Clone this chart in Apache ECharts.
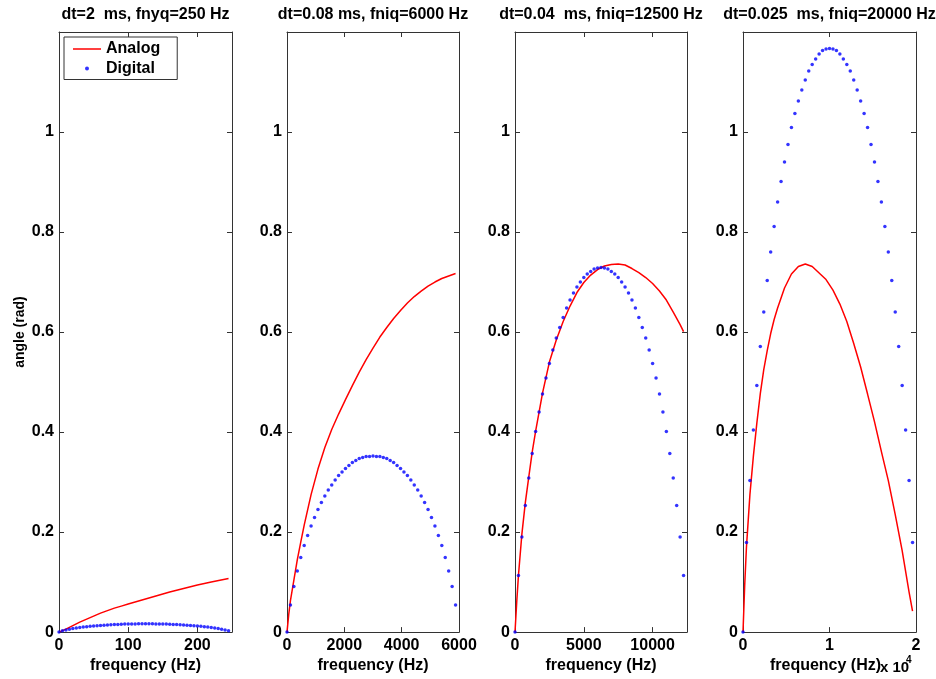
<!DOCTYPE html>
<html>
<head>
<meta charset="utf-8">
<script src="https://cdn.jsdelivr.net/npm/echarts@6/dist/echarts.min.js"></script>
<style>
html,body{margin:0;padding:0;background:#fff;}
#chart{width:936px;height:679px;}
</style>
</head>
<body>
<div id="chart"></div>
<script>
// ---------- data ----------
const titles = ['dt=2  ms, fnyq=250 Hz', 'dt=0.08 ms, fniq=6000 Hz', 'dt=0.04  ms, fniq=12500 Hz', 'dt=0.025  ms, fniq=20000 Hz'];
const xMax = [250, 6000, 12500, 20000];
const xInterval = [100, 2000, 5000, 10000];
const yTicks = [0, 0.2, 0.4, 0.6, 0.8, 1];

// Analog (red lines)
const analogFreq1 = [0,10,20,30,40,50,60,70,80,90,100,120,140,160,180,200,220,245];
const analogVal1  = [0,0.006,0.013,0.020,0.026,0.032,0.038,0.043,0.048,0.052,0.056,0.064,0.072,0.080,0.087,0.094,0.100,0.107];

const analogFreq2 = [0,60,120,240,360,480,600,840,1080,1320,1560,1800,2040,2280,2520,2760,3000,3240,3480,3720,3960,4200,4440,4680,4920,5160,5400,5640,5880];
const analogVal2  = [0,0.035,0.063,0.104,0.145,0.180,0.214,0.275,0.326,0.369,0.405,0.436,0.465,0.493,0.520,0.545,0.568,0.590,0.609,0.627,0.643,0.658,0.671,0.682,0.692,0.700,0.707,0.712,0.717];

const analogFreq3 = [0,125,250,500,750,1000,1250,1500,1750,2000,2500,3000,3500,4000,4500,5000,5500,6000,6500,7000,7500,8000,8500,9000,9500,10000,10500,11000,11500,12000,12250];
const analogVal3  = [0,0.060,0.113,0.196,0.259,0.310,0.360,0.402,0.440,0.478,0.540,0.584,0.621,0.652,0.679,0.699,0.714,0.725,0.732,0.735,0.736,0.734,0.727,0.719,0.709,0.697,0.682,0.664,0.640,0.615,0.601];

const analogFreq4 = [0,200,400,800,1200,1600,2000,2400,2800,3200,3600,4000,4800,5600,6400,7200,8000,8800,9600,10400,11200,12000,12800,13600,14400,15200,16000,16800,17600,18400,19200,19600];
const analogVal4  = [0,0.095,0.170,0.275,0.352,0.418,0.477,0.525,0.563,0.597,0.625,0.648,0.688,0.716,0.731,0.736,0.731,0.718,0.705,0.684,0.656,0.621,0.577,0.530,0.476,0.421,0.361,0.303,0.235,0.163,0.080,0.042];

// Digital (blue dots)
const digitalFreq1 = [0,5,10,15,20,25,30,35,40,45,50,55,60,65,70,75,80,85,90,95,100,105,110,115,120,125,130,135,140,145,150,155,160,165,170,175,180,185,190,195,200,205,210,215,220,225,230,235,240,245];
const digitalVal1  = [0,0.0026,0.0043,0.0058,0.0070,0.0081,0.0091,0.0100,0.0108,0.0116,0.0122,0.0128,0.0134,0.0139,0.0143,0.0148,0.0151,0.0154,0.0157,0.0160,0.0162,0.0163,0.0164,0.0165,0.0166,0.0166,0.0166,0.0165,0.0164,0.0163,0.0162,0.0160,0.0157,0.0154,0.0151,0.0148,0.0143,0.0139,0.0134,0.0128,0.0122,0.0116,0.0108,0.0100,0.0091,0.0081,0.0070,0.0058,0.0043,0.0026];

const digitalFreq2 = [0,120,240,360,480,600,720,840,960,1080,1200,1320,1440,1560,1680,1800,1920,2040,2160,2280,2400,2520,2640,2760,2880,3000,3120,3240,3360,3480,3600,3720,3840,3960,4080,4200,4320,4440,4560,4680,4800,4920,5040,5160,5280,5400,5520,5640,5760,5880];
const digitalVal2  = [0,0.054,0.091,0.122,0.149,0.173,0.193,0.212,0.229,0.245,0.259,0.272,0.284,0.294,0.304,0.313,0.320,0.327,0.333,0.339,0.343,0.347,0.349,0.351,0.351,0.352,0.351,0.351,0.349,0.347,0.343,0.339,0.333,0.327,0.320,0.313,0.304,0.294,0.284,0.272,0.259,0.245,0.229,0.212,0.193,0.173,0.149,0.122,0.091,0.054];

const digitalFreq3 = [0,250,500,750,1000,1250,1500,1750,2000,2250,2500,2750,3000,3250,3500,3750,4000,4250,4500,4750,5000,5250,5500,5750,6000,6250,6500,6750,7000,7250,7500,7750,8000,8250,8500,8750,9000,9250,9500,9750,10000,10250,10500,10750,11000,11250,11500,11750,12000,12250];
const digitalVal3  = [0,0.113,0.190,0.253,0.308,0.357,0.401,0.440,0.476,0.508,0.537,0.564,0.588,0.609,0.629,0.648,0.664,0.678,0.690,0.700,0.709,0.716,0.721,0.726,0.728,0.729,0.728,0.726,0.721,0.716,0.709,0.700,0.690,0.678,0.664,0.648,0.629,0.609,0.588,0.564,0.537,0.508,0.476,0.440,0.401,0.357,0.308,0.253,0.190,0.113];

const digitalFreq4 = [0,400,800,1200,1600,2000,2400,2800,3200,3600,4000,4400,4800,5200,5600,6000,6400,6800,7200,7600,8000,8400,8800,9200,9600,10000,10400,10800,11200,11600,12000,12400,12800,13200,13600,14000,14400,14800,15200,15600,16000,16400,16800,17200,17600,18000,18400,18800,19200,19600];
const digitalVal4  = [0,0.179,0.303,0.404,0.493,0.571,0.640,0.703,0.760,0.811,0.860,0.901,0.940,0.975,1.009,1.037,1.062,1.084,1.104,1.122,1.135,1.146,1.156,1.163,1.166,1.167,1.166,1.163,1.156,1.146,1.135,1.122,1.104,1.084,1.062,1.037,1.009,0.975,0.940,0.901,0.860,0.811,0.760,0.703,0.640,0.571,0.493,0.404,0.303,0.179];

// ---------- build chart ----------
const analogF = [analogFreq1, analogFreq2, analogFreq3, analogFreq4];
const analogV = [analogVal1, analogVal2, analogVal3, analogVal4];
const digitalF = [digitalFreq1, digitalFreq2, digitalFreq3, digitalFreq4];
const digitalV = [digitalVal1, digitalVal2, digitalVal3, digitalVal4];

const FONT = 'Liberation Sans, Arial, sans-serif';
const AXC = '#333';
const gridLeft = [59, 287, 515, 743];
const gridWidth = [173, 172, 172, 173];
const gridTop = 32, gridHeight = 602;

const zip = (a, b) => a.map((v, i) => [v, b[i]]);

const grids = [], xAxes = [], yAxes = [], series = [], graphics = [];
for (let i = 0; i < 4; i++) {
  grids.push({ left: gridLeft[i], top: gridTop, width: gridWidth[i], height: gridHeight, show: false });
  const common = {
    gridIndex: i, type: 'value', min: 0,
    axisLine: { show: true, onZero: false, lineStyle: { color: AXC, width: 1 } },
    axisTick: { show: true, inside: true, length: 5, lineStyle: { color: AXC, width: 1 } },
    splitLine: { show: false }
  };
  xAxes.push(Object.assign({}, common, {
    max: xMax[i], interval: xInterval[i], position: 'bottom',
    axisLabel: {
      margin: 5, color: '#000', fontWeight: 'bold', fontSize: 16, fontFamily: FONT,
      showMaxLabel: (i === 1 || i === 3),
      formatter: i === 3 ? (v => String(v / 10000)) : (v => String(v))
    },
    name: 'frequency (Hz)', nameLocation: 'middle', nameGap: 20,
    nameTextStyle: { color: '#000', fontWeight: 'bold', fontSize: 16, fontFamily: FONT,
      padding: i === 3 ? [0, 8, 0, 0] : 0 }
  }));
  xAxes.push(Object.assign({}, common, {
    max: xMax[i], interval: xInterval[i], position: 'top',
    axisLabel: { show: false }
  }));
  const yLeft = Object.assign({}, common, {
    max: 1.2, interval: 0.2, position: 'left',
    axisLabel: {
      margin: 5, color: '#000', fontWeight: 'bold', fontSize: 16, fontFamily: FONT,
      showMaxLabel: false,
      formatter: v => (yTicks.some(t => Math.abs(t - v) < 1e-9) ? String(+v.toFixed(1)) : '')
    }
  });
  if (i === 0) {
    yLeft.name = 'angle (rad)';
    yLeft.nameLocation = 'middle';
    yLeft.nameGap = 32;
    yLeft.nameTextStyle = { color: '#000', fontWeight: 'bold', fontSize: 14, fontFamily: FONT };
  }
  yAxes.push(yLeft);
  yAxes.push(Object.assign({}, common, {
    max: 1.2, interval: 0.2, position: 'right',
    axisLabel: { show: false }
  }));

  series.push({
    name: 'Analog', type: 'line', xAxisIndex: 2 * i, yAxisIndex: 2 * i,
    data: zip(analogF[i], analogV[i]), symbol: 'none', showSymbol: false,
    lineStyle: { color: '#ff0000', width: 1.5 }, itemStyle: { color: '#ff0000' },
    silent: true, z: 2
  });
  series.push({
    name: 'Digital', type: 'scatter', xAxisIndex: 2 * i, yAxisIndex: 2 * i,
    data: zip(digitalF[i], digitalV[i]), symbol: 'circle', symbolSize: 3.5,
    itemStyle: { color: '#0000ff' }, silent: true, z: 3
  });

  graphics.push({
    type: 'text', x: gridLeft[i] + gridWidth[i] / 2, y: 15,
    style: { text: titles[i], textAlign: 'center', textVerticalAlign: 'middle',
      font: 'bold 16px ' + FONT, fill: '#000' }
  });
}
graphics.push({
  type: 'text', x: 880, y: 668,
  style: { text: 'x 10', textAlign: 'left', textVerticalAlign: 'middle', font: 'bold 15px ' + FONT, fill: '#000' }
});
graphics.push({
  type: 'text', x: 906, y: 660,
  style: { text: '4', textAlign: 'left', textVerticalAlign: 'middle', font: 'bold 10px ' + FONT, fill: '#000' }
});

const chart = echarts.init(document.getElementById('chart'), null, { renderer: 'canvas' });
chart.setOption({
  animation: false,
  backgroundColor: '#fff',
  grid: grids,
  xAxis: xAxes,
  yAxis: yAxes,
  legend: {
    data: [
      { name: 'Analog', icon: 'path://M0,0H28V1.5H0Z', itemStyle: { color: '#ff0000' } },
      { name: 'Digital', icon: 'circle', itemStyle: { color: '#0000ff' } }
    ],
    orient: 'vertical', left: 64, top: 37,
    padding: [4, 17, 3, 9], itemWidth: 28, itemHeight: 4, itemGap: 3.5, itemTextGap: 9,
    backgroundColor: '#fff', borderColor: AXC, borderWidth: 1, selectedMode: false,
    textStyle: { color: '#000', fontWeight: 'bold', fontSize: 16, fontFamily: FONT, lineHeight: 16 }
  },
  series: series,
  graphic: graphics
});
</script>
</body>
</html>
